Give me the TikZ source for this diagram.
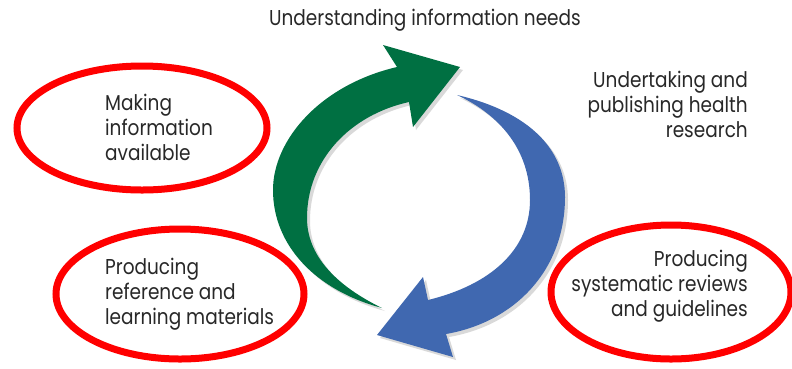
\documentclass[tikz,border=0pt]{standalone}
\usepackage{fontspec}
\setmainfont[FakeStretch=0.86]{Poppins}
\usetikzlibrary{shadows}
\definecolor{arrgreen}{RGB}{0,112,66}
\definecolor{arrblue}{RGB}{64,104,176}
\definecolor{ringred}{RGB}{255,0,0}
\definecolor{txtgray}{RGB}{40,40,40}
\tikzset{
  ring/.style={draw=ringred, line width=7pt},
  label/.style={inner sep=0pt, text=txtgray, font=\fontsize{21.5}{24.8}\selectfont},
  bigarrow/.style={draw=none, drop shadow={shadow xshift=3pt, shadow yshift=-3pt, opacity=0.15, fill=black}}
}
\begin{document}
\begin{tikzpicture}[x=1pt, y=-1pt]
\useasboundingbox (0,0) rectangle (792,368);
\fill[white] (0,0) rectangle (792,368);
% ellipses
\draw[ring] (142,128) ellipse [x radius=125, y radius=62];
\draw[ring] (180,294) ellipse [x radius=124, y radius=65];
\draw[ring] (671,292) ellipse [x radius=120, y radius=67];
% green arrow
\fill[arrgreen, bigarrow] (397,67) .. controls (320,85) and (273,140) .. (273,190)
  .. controls (273,245) and (315,290) .. (382,308)
  .. controls (335,285) and (307,255) .. (307,218)
  .. controls (307,160) and (350,115) .. (409,102)
  -- (413,127) -- (460,67) -- (383,45) -- cycle;
% blue arrow
\fill[arrblue, bigarrow] (457,95) .. controls (530,112) and (565,150) .. (565,197)
  .. controls (565,270) and (515,322) .. (446,334)
  -- (453,357) -- (377,335) -- (423,277) -- (428,300)
  .. controls (490,285) and (530,250) .. (530,200)
  .. controls (530,150) and (500,115) .. (457,95) -- cycle;
% texts
\node[label, anchor=base] (need) at (425,25) {Understanding information needs};
\node[label, anchor=base east, align=right] (research) at (748,137) {Undertaking and\\publishing health\\research};
\node[label, anchor=base west, align=left] (avail) at (105,160) {Making\\information\\available};
\node[label, anchor=base west, align=left] (learn) at (105,324) {Producing\\reference and\\learning materials};
\node[label, anchor=base east, align=right] (review) at (748,316) {Producing\\systematic reviews\\and guidelines};
\end{tikzpicture}
\end{document}
